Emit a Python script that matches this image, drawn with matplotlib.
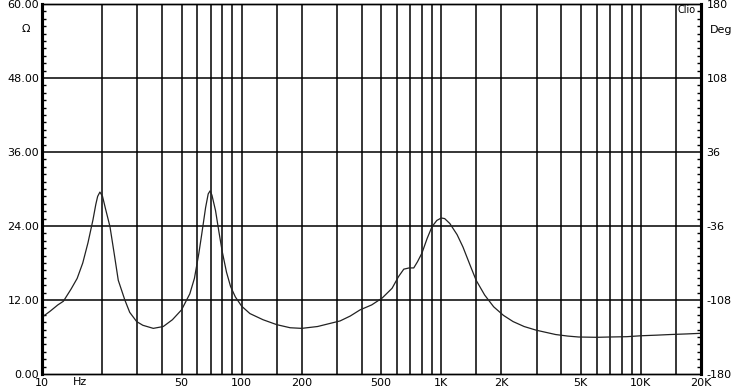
import numpy as np
import matplotlib.pyplot as plt
from matplotlib.ticker import FixedLocator, MultipleLocator, NullFormatter

plt.rcParams['axes.unicode_minus'] = False

# impedance curve (Hz, ohm)
freq = [10, 11, 12, 12.8, 14, 15, 16, 17, 18, 18.6, 19.0, 19.5, 20.1, 20.8, 21.9,
        23, 24.1, 26, 27.5, 29.8, 32, 36.1, 40.5, 45, 50, 55, 58, 61, 63, 66,
        68, 69.5, 71, 74, 77, 80, 84, 88, 93, 100, 110, 128, 150, 175, 200,
        240, 277, 311, 350, 392, 448, 505, 567, 611, 649, 690, 728, 760, 800,
        850, 899, 950, 1000, 1040, 1104, 1200, 1284, 1400, 1495, 1650, 1830,
        2050, 2290, 2600, 2993, 3400, 3740, 4300, 4870, 6000, 7000, 8500,
        10000, 12000, 14000, 17000, 20000]
ohm = [9.2, 10.2, 11.2, 11.8, 13.8, 15.5, 18.0, 21.3, 25.0, 27.5, 28.8, 29.5, 28.8, 26.8, 23.9,
       19.5, 15.2, 12.0, 10.0, 8.5, 7.9, 7.4, 7.7, 8.8, 10.4, 13.0, 15.5, 19.5, 22.5, 27.0,
       29.2, 29.7, 29.0, 26.5, 23.0, 19.8, 16.5, 14.2, 12.5, 11.0, 9.8, 8.8, 8.0, 7.5, 7.4,
       7.7, 8.2, 8.6, 9.4, 10.4, 11.2, 12.3, 13.9, 15.8, 17.0, 17.2, 17.2, 18.2, 19.6,
       22.0, 23.9, 24.9, 25.3, 25.2, 24.4, 22.6, 20.6, 17.5, 15.2, 12.8, 10.9,
       9.5, 8.5, 7.7, 7.1, 6.7, 6.4, 6.15, 6.0, 5.95, 6.0, 6.05,
       6.2, 6.3, 6.4, 6.5, 6.6]

x_ticks = [10, 50, 100, 200, 500, 1000, 2000, 5000, 10000, 20000]
x_labels = ['10', '50', '100', '200', '500', '1K', '2K', '5K', '10K', '20K']
grid_f = [20, 30, 40, 50, 60, 70, 80, 90, 100,
          150, 200, 300, 400, 500, 600, 700, 800, 900, 1000,
          1500, 2000, 3000, 4000, 5000, 6000, 7000, 8000, 9000, 10000,
          15000]
y_ticks = [0, 12, 24, 36, 48, 60]
deg_ticks = [-180, -108, -36, 36, 108, 180]

fig = plt.figure(figsize=(7.38, 3.91), dpi=100)
ax = fig.add_axes([42 / 738, 17 / 391, 659 / 738, 370 / 391])

ax.set_xscale('log')
ax.set_xlim(10, 20000)
ax.set_ylim(0, 60)

for f in grid_f:
    ax.axvline(f, color='black', lw=1.1, zorder=1)
for v in y_ticks[1:-1]:
    ax.axhline(v, color='black', lw=1.1, zorder=1)

ax.plot(freq, ohm, color='#222222', lw=0.9, zorder=3)

ax.set_xticks(x_ticks, x_labels)
ax.xaxis.set_minor_locator(FixedLocator([]))
ax.xaxis.set_minor_formatter(NullFormatter())
ax.tick_params(axis='x', length=0, labelsize=8, pad=3)

ax.set_yticks(y_ticks, ['%.2f' % v for v in y_ticks])
ax.yaxis.set_minor_locator(MultipleLocator(1.2))
ax.tick_params(axis='y', which='major', length=0, labelsize=8, pad=2)
ax.tick_params(axis='y', which='minor', direction='in', length=3, width=1)

ax2 = ax.twinx()
ax2.set_ylim(-180, 180)
ax2.set_yticks(deg_ticks)
ax2.yaxis.set_minor_locator(MultipleLocator(7.2))
ax2.tick_params(axis='y', which='major', length=0, labelsize=8, pad=4)
ax2.tick_params(axis='y', which='minor', direction='in', length=3, width=1)

for a in (ax, ax2):
    a.spines['left'].set_linewidth(2.2)
    a.spines['right'].set_linewidth(2.2)
    a.spines['top'].set_linewidth(1)
    a.spines['bottom'].set_linewidth(1)

fig.text(26 / 738, 1 - 29 / 391, '\u03a9', fontsize=8, ha='center', va='center')
fig.text(710 / 738, 1 - 30 / 391, 'Deg', fontsize=8, ha='left', va='center')
fig.text(687 / 738, 1 - 10 / 391, 'Clio', fontsize=7, ha='center', va='center')
fig.text(80 / 738, 1 - 382 / 391, 'Hz', fontsize=8, ha='center', va='center')

fig.savefig('out.png', dpi=100)
